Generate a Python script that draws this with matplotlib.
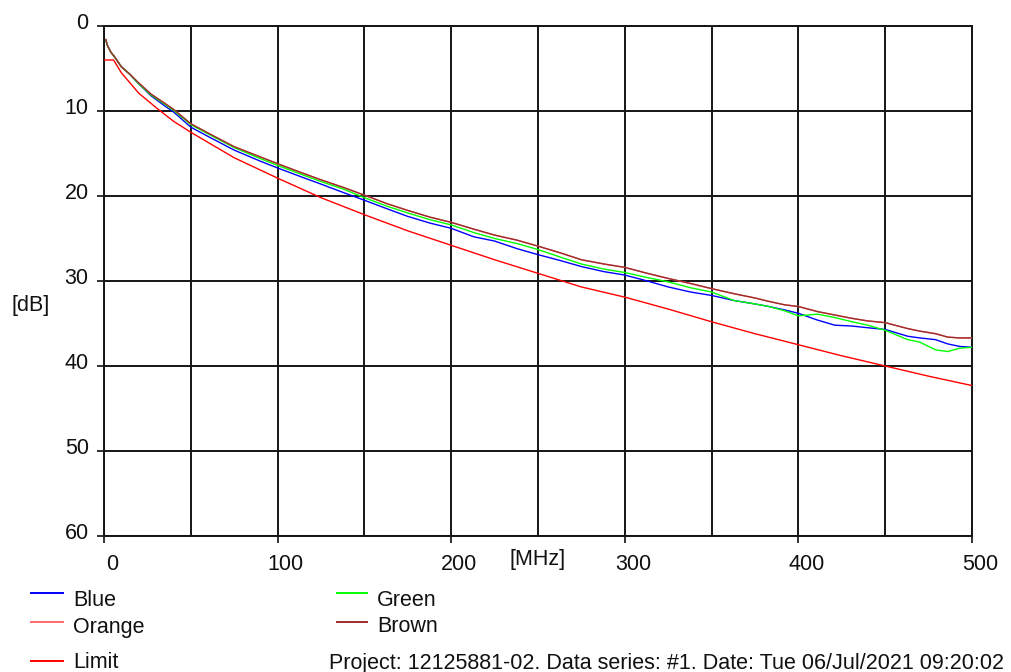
import matplotlib
matplotlib.use("Agg")
import matplotlib.pyplot as plt
from matplotlib.lines import Line2D
import matplotlib.transforms as mtransforms

# ---- data ----
freq = [1, 2, 4, 6, 10, 15, 20, 27, 35, 40, 50, 60, 75, 90, 100, 113, 125, 138, 150,
        163, 175, 188, 200, 213, 225, 238, 250, 263, 275, 288, 300, 313, 325, 338, 350,
        363, 375, 383, 392, 400, 411, 421, 431, 440, 450, 463, 470, 479, 486, 493, 500]

brown = [1.6, 2.3, 3.1, 3.6, 4.8, 5.7, 6.7, 8.0, 9.1, 9.8, 11.5, 12.6, 14.2, 15.4, 16.2,
         17.2, 18.1, 19.0, 19.9, 20.9, 21.7, 22.5, 23.1, 23.9, 24.6, 25.2, 25.9, 26.7,
         27.5, 28.0, 28.4, 29.1, 29.7, 30.3, 30.9, 31.5, 32.0, 32.4, 32.8, 33.0, 33.6,
         34.0, 34.4, 34.7, 34.9, 35.6, 35.9, 36.2, 36.6, 36.7, 36.7]

green = [1.6, 2.3, 3.1, 3.6, 4.8, 5.7, 6.8, 8.1, 9.2, 9.9, 11.6, 12.7, 14.3, 15.6, 16.4,
         17.4, 18.3, 19.2, 20.2, 21.2, 22.0, 22.8, 23.4, 24.3, 25.0, 25.6, 26.3, 27.2,
         28.0, 28.6, 29.0, 29.6, 30.1, 30.8, 31.3, 32.3, 32.7, 33.0, 33.5, 34.1, 33.9,
         34.3, 34.8, 35.2, 35.8, 36.9, 37.2, 38.1, 38.3, 37.9, 37.8]

blue = [1.6, 2.3, 3.1, 3.6, 4.8, 5.7, 6.8, 8.2, 9.4, 10.1, 11.9, 13.0, 14.6, 15.9, 16.7,
        17.7, 18.6, 19.6, 20.5, 21.5, 22.4, 23.2, 23.8, 24.8, 25.3, 26.2, 26.9, 27.6,
        28.3, 28.9, 29.3, 30.0, 30.7, 31.3, 31.7, 32.3, 32.7, 33.0, 33.4, 33.8, 34.6,
        35.2, 35.3, 35.5, 35.7, 36.5, 36.7, 36.9, 37.4, 37.7, 37.8]

orange = brown  # hidden beneath the other traces in the reference

limit_freq = [0, 5.5, 10, 20, 30, 40, 50, 75, 100, 125, 150, 175, 200, 225, 250, 275,
              300, 325, 350, 375, 400, 425, 450, 475, 500]
limit = [4.0, 4.0, 5.5, 7.9, 9.6, 11.2, 12.5, 15.5, 17.9, 20.2, 22.2, 24.1, 25.8, 27.5,
         29.1, 30.7, 31.9, 33.3, 34.8, 36.2, 37.5, 38.8, 40.0, 41.2, 42.3]

x_ticks = [0, 100, 200, 300, 400, 500]
y_ticks = [0, 10, 20, 30, 40, 50, 60]

series = [("Blue", blue, "#0000FF"), ("Orange", orange, "#FF6A6A"),
          ("Green", green, "#00FF00"), ("Brown", brown, "#9B2D2D")]
limit_color = "#FF0000"
footer = "Project: 12125881-02. Data series: #1. Date: Tue 06/Jul/2021 09:20:02"

plt.rcParams['font.family'] = ['Liberation Sans', 'DejaVu Sans']
FS = 15.5
TXT = '#111111'

W, H = 1012, 672
fig = plt.figure(figsize=(W / 100, H / 100), dpi=100)
ax = fig.add_axes([104 / W, 1 - 536 / H, (972 - 104) / W, (536 - 26) / H])

for name, vals, col in series:
    ax.plot(freq, vals, color=col, lw=1.0, zorder=3)
ax.plot(limit_freq, limit, color=limit_color, lw=1.0, zorder=4)

ax.set_xlim(0, 500)
ax.set_ylim(60, 0)
ax.set_xticks(x_ticks)
ax.set_yticks(y_ticks)
ax.set_xticks(range(0, 501, 50), minor=True)
ax.grid(True, which='both', color='#151515', lw=1.4)
ax.tick_params(which='minor', length=0)
ax.tick_params(which='major', direction='out', length=5, width=1.2, labelsize=FS,
               colors=TXT)
ax.tick_params(axis='x', pad=8)
ax.tick_params(axis='y', pad=6)
for s in ax.spines.values():
    s.set_color('#151515')
    s.set_linewidth(1.4)

# small offsets of the tick labels as in the reference
dx = mtransforms.ScaledTranslation(8 / 100, 0, fig.dpi_scale_trans)
for lab in ax.get_xticklabels():
    lab.set_transform(lab.get_transform() + dx)
dy = mtransforms.ScaledTranslation(0, 5 / 100, fig.dpi_scale_trans)
for lab in ax.get_yticklabels():
    lab.set_transform(lab.get_transform() + dy)

fig.text(538 / W, 1 - 560 / H, "[MHz]", ha='center', va='center', fontsize=FS, color=TXT)
fig.text(31 / W, 1 - 305 / H, "[dB]", ha='center', va='center', fontsize=FS, color=TXT)

# legend
def leg(x0, x1, ty, ly, text, col):
    fig.add_artist(Line2D([x0 / W, x1 / W], [1 - ly / H, 1 - ly / H], color=col, lw=1.4))
    fig.text((x1 + 10) / W, 1 - ty / H, text, ha='left', va='center', fontsize=FS,
             color=TXT)

leg(31, 63, 600, 593, "Blue", "#0000FF")
leg(31, 63, 627, 622, "Orange", "#FF6A6A")
leg(31, 63, 663, 661, "Limit", "#FF0000")
leg(337, 367, 600, 593, "Green", "#00FF00")
leg(337, 367, 627, 622, "Brown", "#9B2D2D")
fig.text(329 / W, 1 - 663 / H, footer, ha='left', va='center', fontsize=FS, color=TXT)

fig.savefig("out.png", dpi=100, facecolor='white')
